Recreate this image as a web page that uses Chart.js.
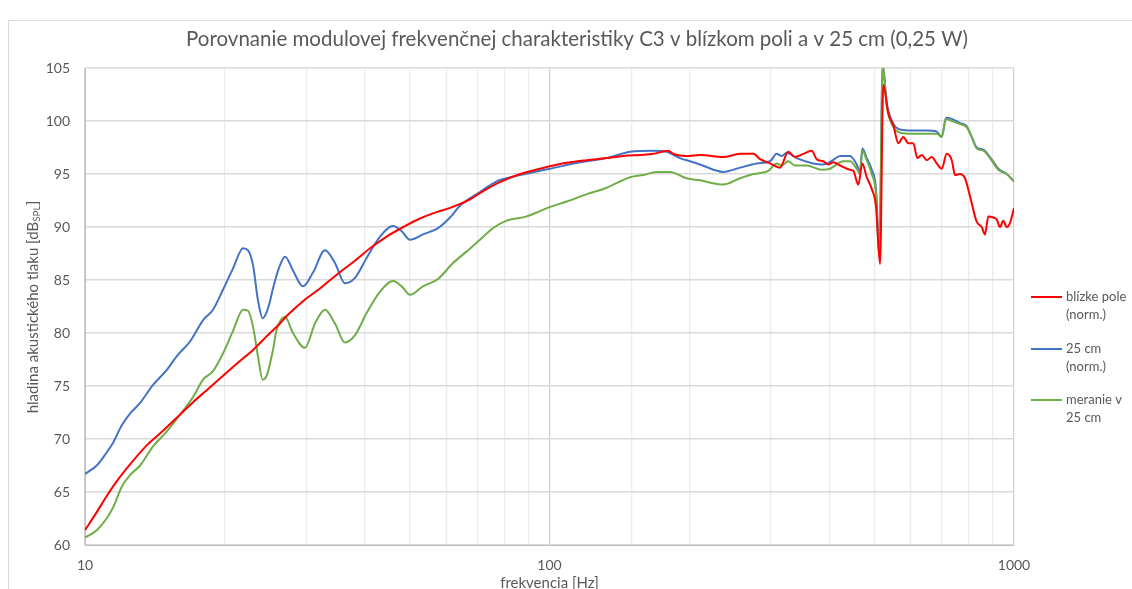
<!DOCTYPE html>
<html>
<head>
<meta charset="utf-8">
<script src="https://cdn.jsdelivr.net/npm/chart.js@4/dist/chart.umd.min.js"></script>
<style>
  html, body { margin: 0; padding: 0; background: #fff; }
  #wrap { width: 1132px; height: 589px; }
</style>
</head>
<body>
<div id="wrap"><canvas id="c" width="1132" height="589"></canvas></div>
<script>
// --- data (frequency in Hz, level in dB) ---
const chartTitle = 'Porovnanie modulovej frekvenčnej charakteristiky C3 v blízkom poli a v 25 cm (0,25 W)';
const xTitle = 'frekvencia [Hz]';
const yTitle = 'hladina akustického tlaku [dB';
const yTitleSub = 'SPL';
const xLabels = [10, 100, 1000];

const seriesNames = ['blízke pole (norm.)', '25 cm (norm.)', 'meranie v 25 cm'];
const legendLines = [['blízke pole', '(norm.)'], ['25 cm', '(norm.)'], ['meranie v', '25 cm']];
const seriesColors = ['#ff0000', '#4472c4', '#70ad47'];

const freqNear = [10, 10.6, 11.13, 11.7, 12.5, 13.58, 14.74, 16.02, 17.11, 18.28, 19.52, 21.21, 23.0, 24.62, 26.29, 27.18, 29.46, 32.05, 34.82, 37.81, 41.09, 44.63, 48.46, 52.62, 57.15, 61.08, 67.42, 70.84, 76.97, 86.41, 95.39, 101.9, 110.7, 120.3, 132.8, 144.2, 156.6, 167.3, 180.2, 184.7, 197.3, 210.9, 236.7, 257.2, 274.8, 284.0, 298.4, 313.5, 326.7, 337.7, 351.9, 366.9, 376.0, 388.5, 398.3, 408.3, 422.1, 443.5, 450.8, 462.3, 471.5, 481.9, 494.0, 504.7, 514.7, 523.2, 536.4, 549.8, 563.6, 577.8, 592.2, 607.1, 619.3, 632.9, 648.8, 665.0, 681.8, 698.9, 716.4, 734.5, 746.5, 765.2, 784.4, 804.1, 831.2, 852.1, 866.1, 880.5, 902.5, 917.9, 933.1, 948.5, 964.6, 980.4, 1000];
const levelNear = [61.4, 63.1, 64.6, 66.0, 67.6, 69.4, 70.8, 72.3, 73.5, 74.6, 75.7, 77.1, 78.4, 79.7, 80.9, 81.6, 83.0, 84.2, 85.5, 86.7, 88.0, 89.1, 90.0, 90.8, 91.4, 91.8, 92.6, 93.2, 94.1, 95.0, 95.5, 95.8, 96.1, 96.3, 96.5, 96.7, 96.8, 96.9, 97.2, 96.9, 96.7, 96.8, 96.6, 96.9, 96.9, 96.4, 96.0, 95.6, 97.1, 96.6, 96.9, 97.2, 96.4, 96.2, 95.9, 96.1, 95.8, 95.4, 95.3, 94.0, 96.0, 94.7, 93.6, 91.9, 86.5, 103.4, 100.7, 99.6, 97.9, 98.5, 97.9, 97.9, 96.5, 96.8, 96.3, 96.6, 96.0, 95.5, 96.9, 96.3, 94.9, 95.0, 94.6, 92.9, 90.5, 90.0, 89.3, 91.0, 90.9, 90.7, 90.0, 90.6, 90.0, 90.4, 91.8];

const freq25 = [10, 10.6, 11.04, 11.51, 12.0, 12.5, 13.14, 14.01, 14.99, 15.75, 16.83, 17.95, 18.86, 19.83, 20.83, 21.89, 22.44, 23.0, 23.57, 24.13, 24.62, 25.02, 25.39, 26.29, 26.96, 28.04, 29.46, 30.96, 32.86, 34.52, 36.28, 38.13, 40.42, 43.17, 46.05, 48.07, 50.08, 53.41, 57.54, 61.08, 64.17, 70.84, 76.97, 80.87, 86.41, 95.39, 100.3, 116.3, 132.8, 149.1, 167.3, 178.8, 190.9, 200.6, 210.9, 236.7, 257.2, 279.4, 298.4, 308.4, 316.2, 324.1, 340.6, 369.3, 388.0, 407.6, 422.1, 443.5, 458.5, 466.1, 471.5, 481.9, 494.0, 504.7, 512.9, 521.6, 532.1, 549.0, 568.4, 606.3, 648.8, 681.8, 698.9, 714.0, 734.5, 765.2, 791.1, 810.9, 831.2, 858.9, 887.8, 925.2, 964.6, 1000];
const level25 = [66.7, 67.5, 68.5, 69.7, 71.3, 72.4, 73.4, 75.1, 76.5, 77.8, 79.2, 81.2, 82.2, 84.1, 86.1, 88.0, 87.8, 86.4, 83.1, 81.4, 82.0, 83.0, 84.2, 86.4, 87.2, 85.9, 84.4, 85.7, 87.8, 86.6, 84.7, 85.2, 87.1, 89.1, 90.1, 89.6, 88.8, 89.3, 89.9, 90.9, 92.0, 93.3, 94.3, 94.6, 94.9, 95.3, 95.5, 96.1, 96.5, 97.1, 97.2, 97.1, 96.5, 96.2, 95.9, 95.2, 95.6, 96.0, 96.2, 96.9, 96.7, 97.0, 96.5, 96.0, 95.9, 96.3, 96.7, 96.7, 95.9, 95.2, 97.4, 96.5, 95.4, 93.5, 87.2, 105.3, 101.7, 99.8, 99.2, 99.1, 99.1, 99.0, 98.5, 100.3, 100.2, 99.8, 99.5, 98.5, 97.5, 97.3, 96.6, 95.5, 95.0, 94.3];

const freqMeas = [10, 10.6, 11.13, 11.51, 12.0, 12.5, 13.14, 14.01, 14.99, 16.02, 17.11, 17.95, 18.86, 19.83, 20.83, 21.89, 22.44, 23.0, 23.57, 24.13, 24.62, 25.39, 25.86, 26.96, 28.04, 29.76, 31.27, 32.86, 34.52, 36.28, 38.13, 40.42, 43.17, 46.05, 48.07, 50.08, 53.41, 57.54, 61.98, 66.33, 70.84, 75.68, 80.87, 89.32, 95.39, 100.3, 108.9, 120.3, 132.8, 149.1, 159.2, 170.1, 181.7, 197.3, 210.9, 236.7, 257.2, 274.8, 295.9, 308.4, 316.2, 326.7, 337.7, 357.9, 385.5, 401.7, 429.0, 443.5, 458.5, 466.1, 471.5, 481.9, 494.0, 504.7, 512.9, 521.6, 532.1, 549.0, 568.4, 606.3, 681.8, 698.9, 714.0, 734.5, 765.2, 791.1, 810.9, 831.2, 858.9, 887.8, 925.2, 964.6, 1000];
const levelMeas = [60.7, 61.4, 62.5, 63.6, 65.5, 66.6, 67.5, 69.3, 70.7, 72.3, 74.0, 75.6, 76.4, 78.1, 80.2, 82.2, 82.1, 80.6, 77.8, 75.6, 76.0, 78.4, 80.3, 81.5, 80.0, 78.6, 80.9, 82.2, 80.9, 79.1, 79.8, 81.9, 83.9, 84.9, 84.4, 83.6, 84.4, 85.1, 86.6, 87.7, 88.8, 89.9, 90.6, 91.0, 91.5, 91.9, 92.4, 93.1, 93.7, 94.7, 94.9, 95.2, 95.2, 94.6, 94.4, 94.0, 94.6, 95.0, 95.3, 96.0, 95.8, 96.2, 95.8, 95.8, 95.4, 95.5, 96.2, 96.2, 95.5, 95.0, 97.2, 96.3, 95.0, 93.1, 87.2, 105.3, 101.4, 99.5, 98.9, 98.8, 98.8, 98.5, 100.2, 100.0, 99.7, 99.4, 98.5, 97.4, 97.2, 96.5, 95.4, 95.0, 94.3];

const FONT = 'Lato, "Open Sans", sans-serif';
const TEXT = '#595959';

function toPoints(xs, ys) {
  return xs.map((x, i) => ({ x: x, y: ys[i] }));
}

// title, axis titles, frame and the wrapped legend are drawn here
const decorPlugin = {
  id: 'decor',
  beforeDraw(chart) {
    const ctx = chart.ctx;
    ctx.save();
    ctx.fillStyle = '#ffffff';
    ctx.fillRect(0, 0, chart.width, chart.height);
    ctx.strokeStyle = '#d9d9d9';
    ctx.lineWidth = 1;
    ctx.strokeRect(8.5, 20.5, chart.width + 20, chart.height + 20);
    ctx.restore();
  },
  afterDraw(chart) {
    const ctx = chart.ctx;
    const area = chart.chartArea;
    ctx.save();
    ctx.fillStyle = TEXT;

    // chart title
    ctx.font = '20.5px ' + FONT;
    ctx.textAlign = 'center';
    ctx.textBaseline = 'middle';
    ctx.fillText(chartTitle, 577, 39);

    // x axis title
    ctx.font = '15px ' + FONT;
    ctx.fillText(xTitle, (area.left + area.right) / 2, 583);

    // y axis title with subscript
    ctx.save();
    ctx.translate(33, 307);
    ctx.rotate(-Math.PI / 2);
    ctx.font = '15px ' + FONT;
    const w1 = ctx.measureText(yTitle).width;
    ctx.font = '10px ' + FONT;
    const w2 = ctx.measureText(yTitleSub).width;
    ctx.font = '15px ' + FONT;
    const w3 = ctx.measureText(']').width;
    let x0 = -(w1 + w2 + w3) / 2;
    ctx.textAlign = 'left';
    ctx.fillText(yTitle, x0, 0);
    ctx.font = '10px ' + FONT;
    ctx.fillText(yTitleSub, x0 + w1, 4);
    ctx.font = '15px ' + FONT;
    ctx.fillText(']', x0 + w1 + w2, 0);
    ctx.restore();

    // legend
    const rows = [297, 349, 400];
    ctx.font = '13px ' + FONT;
    ctx.textAlign = 'left';
    legendLines.forEach((lines, i) => {
      const y = rows[i];
      ctx.strokeStyle = seriesColors[i];
      ctx.lineWidth = 2;
      ctx.beginPath();
      ctx.moveTo(1031, y);
      ctx.lineTo(1062, y);
      ctx.stroke();
      lines.forEach((t, j) => ctx.fillText(t, 1066, y + j * 18));
    });
    ctx.restore();
  }
};

const datasets = [
  { data: toPoints(freqNear, levelNear) },
  { data: toPoints(freq25, level25) },
  { data: toPoints(freqMeas, levelMeas) }
].map((d, i) => Object.assign(d, {
  label: seriesNames[i],
  borderColor: seriesColors[i],
  backgroundColor: seriesColors[i],
  borderWidth: 2,
  pointRadius: 0,
  cubicInterpolationMode: 'monotone',
  fill: false
}));

// draw red on top like the reference
datasets[0].order = 0;
datasets[1].order = 2;
datasets[2].order = 1;

new Chart(document.getElementById('c'), {
  type: 'line',
  data: { datasets: datasets },
  options: {
    responsive: false,
    animation: false,
    parsing: true,
    layout: { padding: { top: 68, right: 118, bottom: 0, left: 0 } },
    plugins: {
      legend: { display: false },
      title: { display: false },
      tooltip: { enabled: false }
    },
    scales: {
      x: {
        type: 'logarithmic',
        min: 10,
        max: 1000,
        afterFit(s) { s.height = 44; },
        border: { color: '#bfbfbf', width: 1 },
        grid: {
          drawTicks: false,
          color: c => (c.tick && xLabels.includes(c.tick.value)) ? '#d0d0d0' : '#ececec',
          lineWidth: 1.25
        },
        ticks: {
          autoSkip: false,
          maxRotation: 0,
          padding: 12,
          color: TEXT,
          font: { family: FONT, size: 14 },
          callback: v => xLabels.includes(v) ? String(v) : ''
        }
      },
      y: {
        min: 60,
        max: 105,
        afterFit(s) { s.width = 85; },
        border: { color: '#bfbfbf', width: 1 },
        grid: { drawTicks: false, color: '#d9d9d9', lineWidth: 1.5 },
        ticks: {
          stepSize: 5,
          padding: 15,
          color: TEXT,
          font: { family: FONT, size: 14 }
        }
      }
    }
  },
  plugins: [decorPlugin]
});
</script>
</body>
</html>
